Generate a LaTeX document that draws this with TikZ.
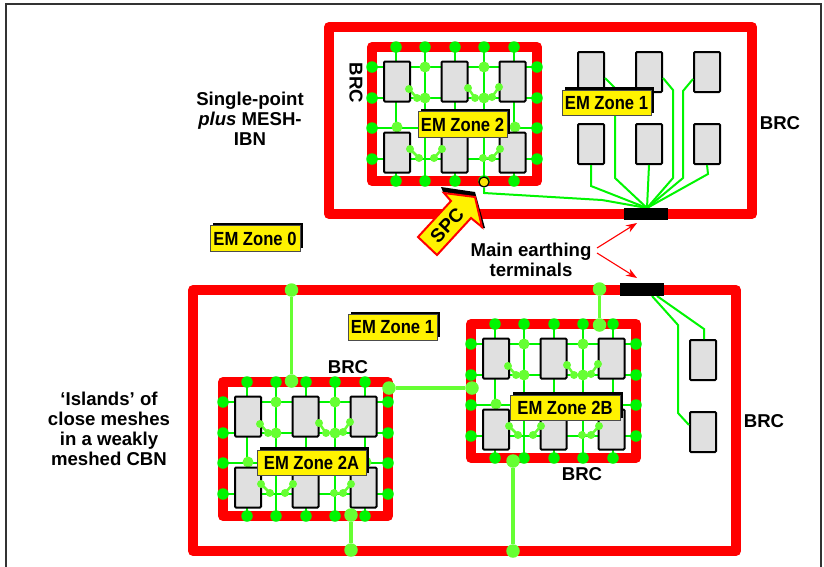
\documentclass[tikz,border=0pt]{standalone}
\usepackage{fontspec}
\usepackage{graphicx}
\setmainfont{Liberation Sans}
\usetikzlibrary{shadows,arrows.meta}
\definecolor{gridg}{RGB}{0,245,0}
\definecolor{lightg}{RGB}{102,255,51}
\definecolor{cabfill}{RGB}{224,224,224}
\definecolor{brcred}{RGB}{255,0,0}
\newcommand{\zonetxt}[1]{\scalebox{.875}[1]{#1}}
\tikzset{
  frame/.style={draw=brcred,line width=10pt,line join=round},
  gline/.style={draw=gridg,line width=2.5pt},
  wire/.style={draw=gridg,line width=2pt,line join=miter},
  bond/.style={draw=lightg,line width=2.5pt},
  tie/.style={draw=lightg,line width=3.5pt},
  gdot/.style={circle,fill=gridg,inner sep=0pt,minimum size=11.5pt},
  ldot/.style={circle,fill=lightg,inner sep=0pt,minimum size=11pt},
  sdot/.style={circle,fill=lightg,inner sep=0pt,minimum size=8pt},
  bigdot/.style={circle,fill=lightg,inner sep=0pt,minimum size=13.5pt},
  cabinet/.style={draw=black,line width=2pt,fill=cabfill,rounded corners=1pt,minimum width=26pt,minimum height=40pt,inner sep=0pt},
  terminal/.style={fill=black,inner sep=0pt,minimum width=44pt,minimum height=12pt},
  zone/.style={draw=black!70,line width=.6pt,fill=yellow,inner sep=0pt,minimum height=25.5pt,
    copy shadow={shadow xshift=2.5pt,shadow yshift=3pt,fill=black,draw=none},
    font=\fontsize{19}{19}\bfseries\selectfont},
  lbl/.style={align=center,inner sep=0pt,font=\fontsize{18.6}{20}\bfseries\selectfont},
  pointer/.style={draw=brcred,line width=1.1pt,-{Stealth[length=11pt,width=8pt]}},
}
\newcommand{\island}[3]{%
\begin{scope}[shift={(#2,#3)}]
  \draw[frame] (0,0) rectangle (165,134);
  \foreach \gx in {24,53,83,112,142} \draw[gline] (\gx,0) -- (\gx,134);
  \foreach \gy in {20,51,81,112} \draw[gline] (0,\gy) -- (165,\gy);
  \foreach \gx in {24,53,83,112,142} {
    \node[gdot] (#1t\gx) at (\gx,0) {};
    \node[gdot] (#1b\gx) at (\gx,134) {};
  }
  \foreach \gy in {20,51,81,112} {
    \node[gdot] (#1l\gy) at (0,\gy) {};
    \node[gdot] (#1r\gy) at (165,\gy) {};
  }
  \foreach \gx/\gy in {53/20,112/20,53/51,112/51,25/80,143/80}
    \node[ldot] (#1m\gx\gy) at (\gx,\gy) {};
  \draw[bond] (37,42) -- (45,51) -- (53,51);
  \draw[bond] (96,41) -- (103,51) -- (120,50) -- (127,40);
  \draw[bond] (38,102) -- (47,111);
  \draw[bond] (62,111) -- (70,102);
  \draw[bond] (111,111) -- (120,111) -- (128,102);
  \foreach \gx in {25,82.5,140.5}
    \foreach \gy in {34.5,105.5}
      \node[cabinet] (#1c\gx\gy) at (\gx,\gy) {};
  \foreach \gx/\gy in {37/42,45/51,96/41,103/51,120/50,127/40,38/102,47/111,62/111,70/102,111/111,120/111,128/102}
    \node[sdot] (#1s\gx\gy) at (\gx,\gy) {};
\end{scope}}
\begin{document}
\begin{tikzpicture}[x=1pt,y=-1pt]
\useasboundingbox (0,0) rectangle (824,566);
% outer border
\draw[black!80,line width=2pt] (6,580) -- (6,4) -- (821,4) -- (821,580);
% frames
\draw[frame] (329,27) rectangle (752,214);
\draw[frame] (193,290) rectangle (736,551);
% terminals and their coordinates
\coordinate (j1) at (647,208);
\coordinate (j2) at (652,296);
\coordinate (j3) at (657,296);
% cabinets of zone 1 (top)
\foreach \cn/\cx/\cy in {a/591/72,b/649/72,c/707/72,d/591/144,e/649/144,f/707/144}
  \node[cabinet] (z\cn) at (\cx,\cy) {};
\node[cabinet] (zg) at (703,360) {};
\node[cabinet] (zh) at (703,432) {};
% islands
\island{two}{372}{47}
\island{tA}{223}{382}
\island{tB}{471}{324}
% yellow SPC dot
\node[circle,draw=black,line width=1.2pt,fill=yellow!85!orange,inner sep=0pt,minimum width=10pt,minimum height=10pt] (spcdot) at (484,182) {};
% wires top
\draw[wire] (spcdot.south) -- (484,193) -- (602,200) -- (j1);
\draw[wire] (zd.south) -- (591,186) -- (j1);
\draw[wire] (za.east |- 0,78) -- (615,88) -- (615,178) -- (j1);
\draw[wire] (ze.south) -- (j1);
\draw[wire] (zb.east |- 0,78) -- (673,90) -- (673,178) -- (j1);
\draw[wire] (zc.west |- 0,79) -- (683,91) -- (683,178) -- (j1);
\draw[wire] (zf.south) -- (708,174) -- (j1);
% wires lower right
\draw[wire] (j2) -- (678,325) -- (678,413) -- (zh.west |- 0,425);
\draw[wire] (j3) -- (704,329) -- (704,339);
\node[terminal] (term1) at (646,214) {};
\node[terminal,minimum height=13pt] (term2) at (642,289.5) {};
% ties between frames
\node[bigdot] (tp1) at (291.5,290) {};
\node[bigdot] (tp2) at (291.5,381) {};
\draw[tie] (tp1) -- (tp2);
\node[bigdot] (tp3) at (389,388) {};
\node[bigdot] (tp4) at (472,388) {};
\draw[tie] (tp3) -- (tp4);
\node[bigdot] (tp5) at (351,515) {};
\node[bigdot] (tp6) at (351,550) {};
\draw[tie] (tp5) -- (tp6);
\node[bigdot] (tp7) at (599.5,289) {};
\node[bigdot] (tp8) at (599.5,325) {};
\draw[tie] (tp7) -- (tp8);
\node[bigdot] (tp9) at (513,461) {};
\node[bigdot] (tp10) at (513,551) {};
\draw[tie] (tp9) -- (tp10);
% SPC arrow
\fill[black] (441,187) -- (475,192) -- (485,228) -- (481,228) -- (475,197) -- (443,192) -- cycle;
\draw[brcred,line width=2pt,fill=yellow,line join=miter,miter limit=4]
  (444,193) -- (475,197) -- (482,227) -- (471,218) -- (437,255) -- (418,237) -- (451,201) -- cycle;
\node[rotate=47,inner sep=0pt,font=\fontsize{19}{19}\bfseries\selectfont] (spc) at (447,225.5) {SPC};
% zone labels
\node[zone,minimum width=89pt] (z1top) at (606.5,103) {\zonetxt{EM Zone 1}};
\node[zone,minimum width=89pt] (z2) at (462.5,124.5) {\zonetxt{EM Zone 2}};
\node[zone,minimum width=90pt] (z0) at (255,238.5) {\zonetxt{EM Zone 0}};
\node[zone,minimum width=89pt] (z1low) at (392.5,327.5) {\zonetxt{EM Zone 1}};
\node[zone,minimum width=109pt] (z2a) at (311.5,463) {\zonetxt{EM Zone 2A}};
\node[zone,minimum width=110pt] (z2b) at (565,408) {\zonetxt{EM Zone 2B}};
% text labels
\node[lbl] (single) at (250,119) {Single-point\\\textit{plus} MESH-\\IBN};
\node[lbl] (islands) at (109,429) {‘Islands’ of\\close meshes\\in a weakly\\meshed CBN};
\node[lbl,rotate=-90] (b1) at (356,83) {BRC};
\node[lbl] (b2) at (780,123) {BRC};
\node[lbl] (b3) at (764,421) {BRC};
\node[lbl] (b4) at (348,367) {BRC};
\node[lbl] (b5) at (582,474) {BRC};
\node[lbl] (met) at (531,259.5) {Main earthing\\terminals};
% pointers
\coordinate (p1) at (597,248);
\coordinate (p2) at (597,253);
\coordinate (q1) at (637,223);
\coordinate (q2) at (637,278);
\draw[pointer] (p1) -- (q1);
\draw[pointer] (p2) -- (q2);
\end{tikzpicture}
\end{document}
